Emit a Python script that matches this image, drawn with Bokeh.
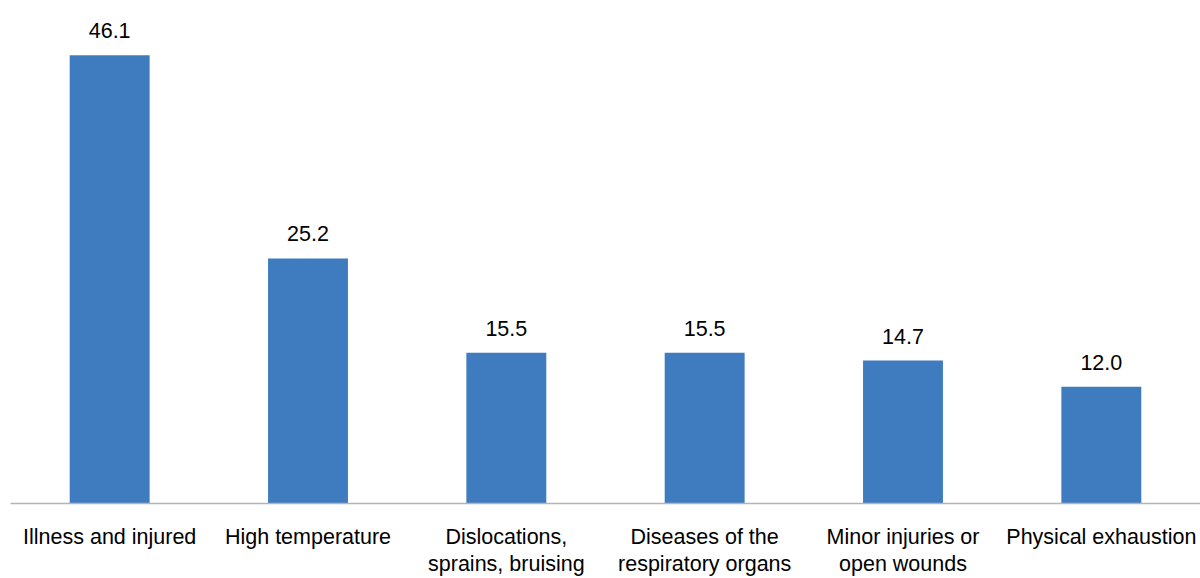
from bokeh.plotting import figure
from bokeh.models import ColumnDataSource, Range1d, LabelSet, CategoricalAxis, CustomJSTickFormatter
from bokeh.core.properties import value
from bokeh.embed import file_html
from bokeh.resources import INLINE

categories = ["Illness and injured", "High temperature", "Dislocations, sprains, bruising",
              "Diseases of the respiratory organs", "Minor injuries or open wounds",
              "Physical exhaustion"]
values = [46.1, 25.2, 15.5, 15.5, 14.7, 12.0]
label_line1 = ["Illness and injured", "High temperature", "Dislocations,",
               "Diseases of the", "Minor injuries or", "Physical exhaustion"]
label_line2 = [" ", " ", "sprains, bruising", "respiratory organs", "open wounds", " "]
value_labels = ["%.1f" % v for v in values]

src = ColumnDataSource(dict(cat=categories, val=values, lab=value_labels))

p = figure(x_range=categories, y_range=Range1d(0, 50.9), width=1200, height=578,
           output_backend="svg", toolbar_location=None,
           min_border_left=10, min_border_right=0, min_border_top=8, min_border_bottom=74)

p.vbar(x="cat", top="val", width=0.403, source=src, fill_color="#3F7CBF", line_color=None)

font = "Liberation Sans"
fs = "21.5px"
p.add_layout(LabelSet(x="cat", y="val", text="lab", source=src, text_align="center",
                      text_baseline="alphabetic", y_offset=17, text_font=value(font),
                      text_font_size=value(fs), text_color="#000000"))

code = "const i = cats.indexOf(tick); return i >= 0 ? labels[i] : tick;"

p.yaxis.visible = False
p.xgrid.visible = False
p.ygrid.visible = False
p.outline_line_color = None
ax = p.xaxis[0]
ax.axis_line_color = "#B4B4B4"
ax.axis_line_width = 1.5
ax.major_tick_line_color = None
ax.minor_tick_line_color = None
ax.major_tick_out = 0
ax.major_tick_in = 0
ax.major_label_standoff = 21
ax.major_label_text_font = font
ax.major_label_text_font_size = fs
ax.major_label_text_color = "#000000"
ax.formatter = CustomJSTickFormatter(args=dict(cats=categories, labels=label_line1), code=code)

ax2 = CategoricalAxis(axis_line_color=None, major_tick_line_color=None,
                      minor_tick_line_color=None, major_tick_out=0, major_tick_in=0,
                      major_label_standoff=0, major_label_text_font=font,
                      major_label_text_font_size=fs, major_label_text_color="#000000",
                      formatter=CustomJSTickFormatter(args=dict(cats=categories, labels=label_line2),
                                                      code=code))
p.add_layout(ax2, "below")
p.x_range.range_padding = 0

open("out.html", "w").write(file_html(p, INLINE))
